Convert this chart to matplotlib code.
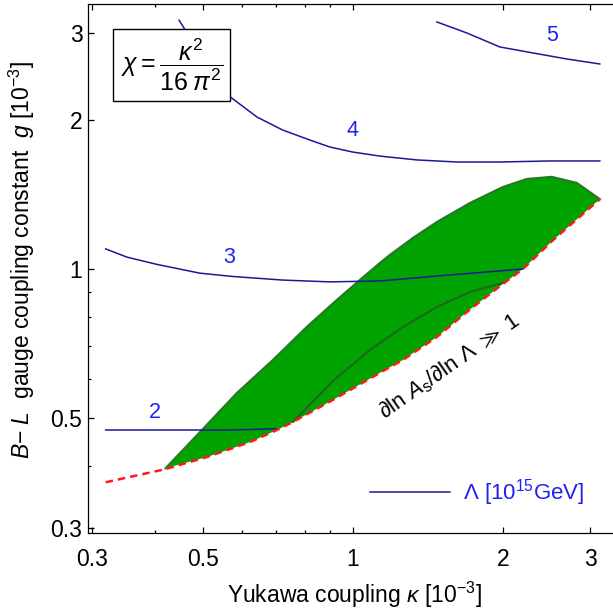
import numpy as np
import matplotlib
matplotlib.use("Agg")
import matplotlib.pyplot as plt

plt.rcParams['font.family'] = ['Liberation Sans', 'DejaVu Sans']
plt.rcParams['mathtext.fontset'] = 'custom'
plt.rcParams['mathtext.rm'] = 'Liberation Sans'
plt.rcParams['mathtext.it'] = 'Liberation Sans:italic'
plt.rcParams['mathtext.bf'] = 'Liberation Sans:bold'
plt.rcParams['mathtext.sf'] = 'Liberation Sans'
plt.rcParams['mathtext.fallback'] = 'stixsans'

# контуры Lambda [10^15 GeV]
kappa2 = [0.319, 0.55, 0.62, 0.704]
g2 = [0.473, 0.473, 0.474, 0.476]

kappa3 = [0.319, 0.352, 0.404, 0.493, 0.574, 0.723, 0.899, 1.133, 1.475, 2.195]
g3 = [1.098, 1.057, 1.022, 0.981, 0.966, 0.950, 0.942, 0.946, 0.968, 1.0]

kappa4 = [0.448, 0.458, 0.482, 0.516, 0.561, 0.642, 0.723, 0.82, 0.899,
          1.0, 1.133, 1.344, 1.618, 1.973, 2.487, 3.133]
g4 = [3.18, 3.07, 2.835, 2.547, 2.246, 2.028, 1.909, 1.822, 1.764,
      1.723, 1.691, 1.661, 1.645, 1.645, 1.653, 1.653]

kappa5 = [1.475, 1.694, 1.973, 2.298, 2.690, 3.133]
g5 = [3.155, 2.998, 2.809, 2.732, 2.656, 2.595]

lam_values = ['2', '3', '4', '5']
lam_label_k = [0.40, 0.564, 1.0, 2.51]
lam_label_g = [0.513, 1.057, 1.909, 2.956]

# нижняя граница (красный пунктир)
red_k = [0.319, 0.419, 0.509, 0.621, 0.704, 0.758, 0.912, 1.133, 1.260, 1.475,
         1.718, 2.001, 2.195, 2.522, 3.133]
red_g = [0.371, 0.394, 0.417, 0.447, 0.473, 0.491, 0.544, 0.617, 0.655, 0.729,
         0.828, 0.933, 1.0, 1.143, 1.384]

# верхняя граница зеленой области
up_k = [0.421, 0.5045, 0.585, 0.691, 0.808, 0.929, 1.033, 1.133, 1.186, 1.320,
        1.475, 1.718, 2.001, 2.236, 2.509, 2.818, 3.133]
up_g = [0.396, 0.4796, 0.5616, 0.6548, 0.7635, 0.866, 0.950, 1.028, 1.067, 1.155,
        1.244, 1.359, 1.464, 1.520, 1.535, 1.492, 1.384]

# внутренняя линия
in_k = [0.758, 0.912, 1.082, 1.260, 1.475, 1.718, 2.02]
in_g = [0.491, 0.594, 0.686, 0.7635, 0.838, 0.899, 0.94]

blue_line = '#1a1a99'
blue_text = '#2020f0'

fig = plt.figure(figsize=(6.13, 6.10), dpi=100)
ax = fig.add_axes([88/613, 77/610, 525/613, 529/610])
ax.set_xscale('log')
ax.set_yscale('log')

# зеленая область
rk = np.array(red_k)
rg = np.array(red_g)
m = (rk > up_k[0]) & (rk < up_k[-1])
poly_k = np.concatenate([up_k, rk[m][::-1]])
poly_g = np.concatenate([up_g, rg[m][::-1]])
ax.fill(poly_k, poly_g, facecolor='#00a300', edgecolor='none', zorder=1)
ax.plot(up_k, up_g, color='#237a23', lw=1.6, zorder=2)
ax.plot(in_k, in_g, color='#1f661f', lw=1.5, zorder=2)

# контуры
ax.plot(kappa2, g2, color=blue_line, lw=1.1, zorder=3, label='Λ [10$^{15}$GeV]')
ax.plot(kappa3, g3, color=blue_line, lw=1.1, zorder=3)
ax.plot(kappa4, g4, color=blue_line, lw=1.1, zorder=3)
ax.plot(kappa5, g5, color=blue_line, lw=1.1, zorder=3)
for s, xk, yg in zip(lam_values, lam_label_k, lam_label_g):
    ax.text(xk, yg, s, color=blue_text, fontsize=15.5, ha='center', va='center', zorder=4)

ax.plot(red_k, red_g, color='#ff1a1a', lw=1.8, dashes=(3, 2), zorder=5)

ax.text(1.566, 0.637, r'$\partial\mathrm{ln}\ A_{\mathrm{s}}/\partial\mathrm{ln}\ \Lambda\ \gg\ 1$',
        fontsize=16, rotation=35, ha='center', va='center', rotation_mode='anchor')

ax.text(0.433, 2.583, r'$\chi = \dfrac{\kappa^2}{16\;\pi^2}$', fontsize=18,
        ha='center', va='center', zorder=6,
        bbox=dict(boxstyle='square,pad=0.3', facecolor='white', edgecolor='black', lw=1.0))

leg = ax.legend(loc='center left', bbox_to_anchor=(0.537, 0.0756), frameon=False,
                fontsize=16, handlelength=3.6, handletextpad=0.6,
                borderpad=0, borderaxespad=0, labelcolor=blue_text)

ax.set_xlim(0.294, 3.33)
ax.set_ylim(0.293, 3.43)

ax.set_xticks([0.3, 0.5, 1, 2, 3])
ax.set_xticklabels(['0.3', '0.5', '1', '2', '3'])
ax.set_xticks([0.4, 0.6, 0.7, 0.8, 0.9], minor=True)
ax.set_xticklabels([], minor=True)
ax.set_yticks([0.3, 0.5, 1, 2, 3])
ax.set_yticklabels(['0.3', '0.5', '1', '2', '3'])
ax.set_yticks([0.4, 0.6, 0.7, 0.8, 0.9], minor=True)
ax.set_yticklabels([], minor=True)

ax.tick_params(which='both', direction='in', top=True, right=False, width=0.9)
ax.tick_params(which='major', length=4.5, labelsize=16.5)
ax.tick_params(which='minor', length=2.3)
ax.tick_params(axis='x', which='major', pad=11)
ax.tick_params(axis='y', which='major', pad=4)
ax.spines['right'].set_visible(False)
for sp in ['left', 'bottom', 'top']:
    ax.spines[sp].set_linewidth(0.9)

ax.set_xlabel(r'Yukawa coupling $\kappa$ [10$^{-3}$]', fontsize=16.5)
ax.set_ylabel(r'$B$$-$ $L$  gauge coupling constant  $g$ [10$^{-3}$]', fontsize=16.5)
ax.xaxis.set_label_coords(0.507, -0.089)
ax.yaxis.set_label_coords(-0.097, 0.516)

plt.savefig('out.png', dpi=100)
